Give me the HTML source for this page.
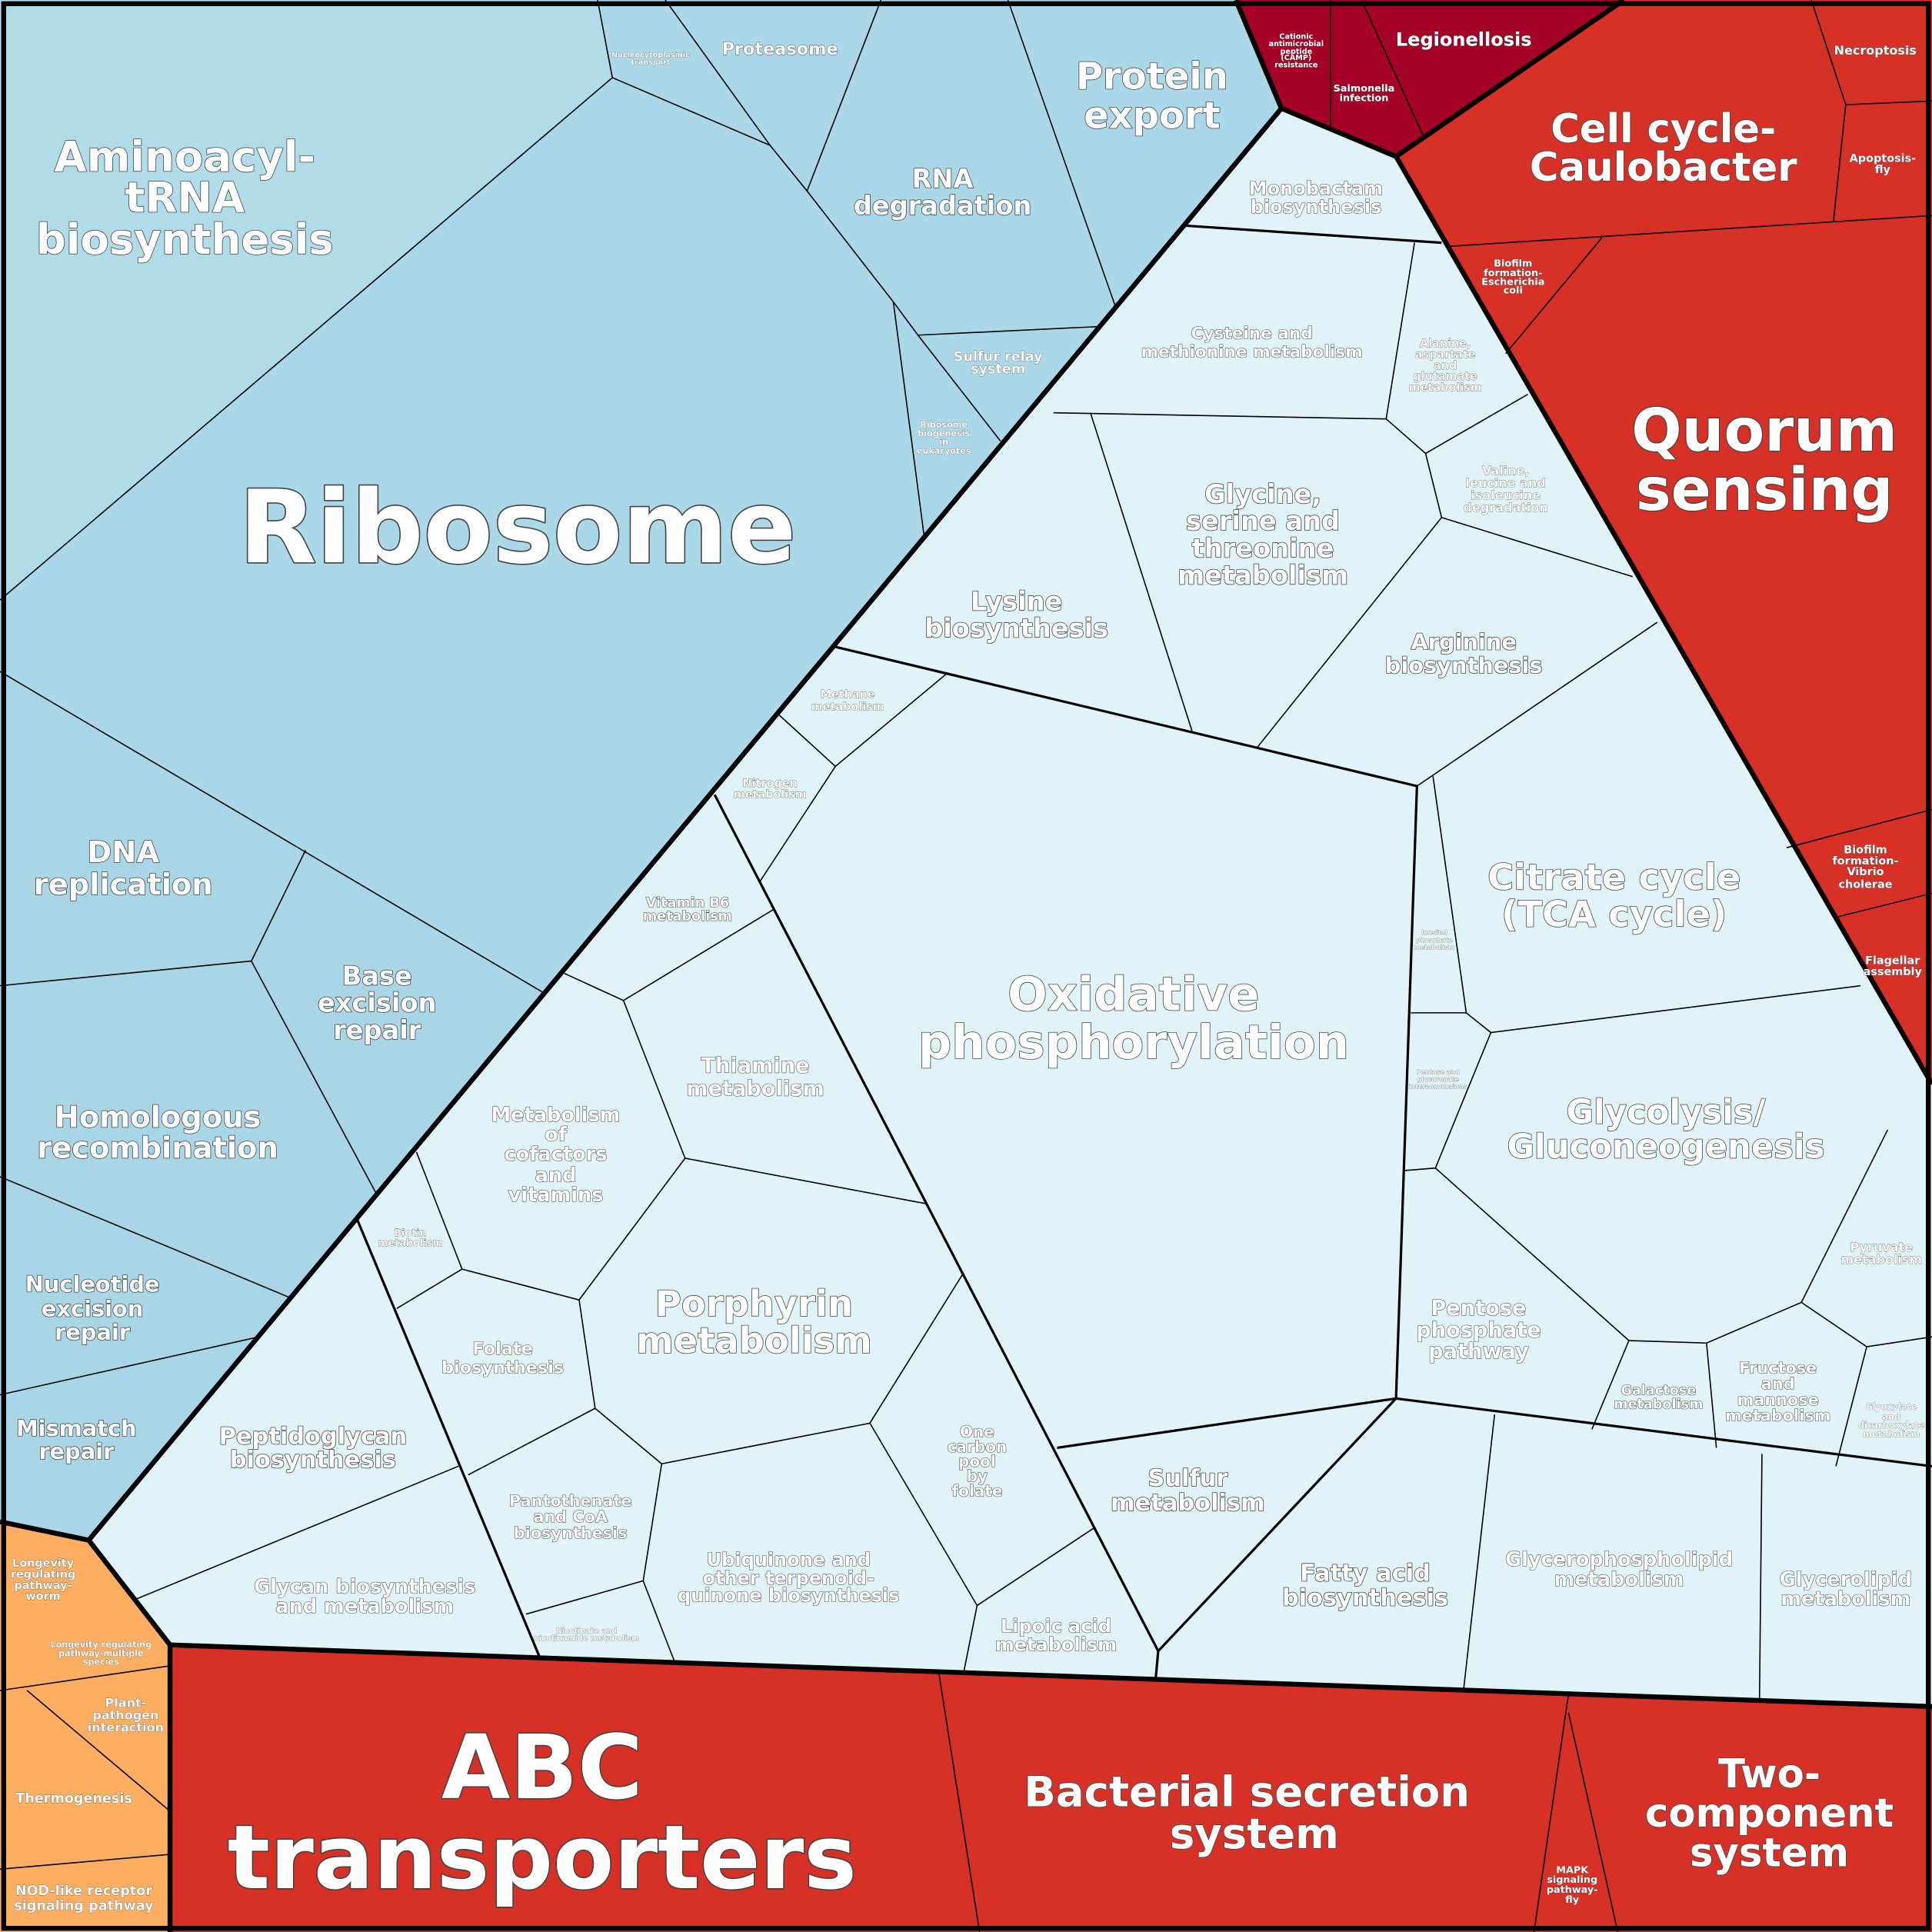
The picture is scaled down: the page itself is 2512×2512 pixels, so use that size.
<!DOCTYPE html>
<html><head><meta charset="utf-8"><style>
html,body{margin:0;padding:0;background:#fff}
svg{display:block}
text{font-family:"DejaVu Sans","Liberation Sans",sans-serif;font-weight:bold;fill:#fff;text-anchor:middle;dominant-baseline:central;paint-order:stroke;stroke:#444;stroke-linejoin:round}
.th{fill:none;stroke:#000;stroke-width:1}
.md{fill:none;stroke:#000;stroke-width:2}
.tk{fill:none;stroke:#000;stroke-width:4}
</style></head><body>
<svg width="2512" height="2512" viewBox="0 0 1568 1568" xmlns="http://www.w3.org/2000/svg">
<polygon points="0,0 1040,0 1040,88 72,1250 0,1235" fill="#abd8e8"/>
<polygon points="0,487 497,63 485,0 0,0" fill="#b0dbe9"/>
<polygon points="0,545 440,805 72,1250 0,1235" fill="#a9d6e6"/>
<polygon points="1003,0 1318,0 1133,127 1040,88" fill="#a50026"/>
<polygon points="1318,0 1568,0 1568,880 1133,127" fill="#d73027"/>
<polygon points="0,1235 72,1250 138,1335 138,1568 0,1568" fill="#fdae61"/>
<polygon points="138,1335 1568,1385 1568,1568 138,1568" fill="#d73027"/>
<polygon points="1040,88 1133,127 1568,880 1568,1385 138,1335 72,1250" fill="#e0f3f8"/>

<g class="th">
<polyline points="0,487 497,63 485,0"/>
<polyline points="497,63 625,118"/>
<polyline points="540,0 625,118 655,155 725,245 750,435"/>
<polyline points="725,245 745,272 812,358"/>
<polyline points="745,272 893,265 905,248"/>
<polyline points="655,155 715,0"/>
<polyline points="818,0 905,248"/>
<polyline points="0,545 440,805"/>
<polyline points="248,690 204,780 305,968"/>
<polyline points="0,800 204,780"/>
<polyline points="0,955 235,1053"/>
<polyline points="0,1132 210,1085"/>
<polyline points="1470,0 1498,85 1568,82"/>
<polyline points="1498,85 1488,180"/>
<polyline points="1175,200 1488,180 1568,175"/>
<polyline points="1300,193 1222,287"/>
<polyline points="1080,0 1080,105"/>
<polyline points="1105,0 1155,110"/>
<polyline points="1450,688 1568,657"/>
<polyline points="1488,745 1568,725"/>
<polyline points="762,1358 795,1568"/>
<polyline points="1273,1375 1245,1568"/>
<polyline points="1273,1390 1313,1568"/>
<polyline points="0,1372 138,1352"/>
<polyline points="22,1372 138,1470"/>
<polyline points="0,1517 138,1505"/>
<polyline points="855,335 1125,340 1148,197"/>
<polyline points="885,335 968,595"/>
<polyline points="1125,340 1157,368 1170,420 1020,607"/>
<polyline points="1157,368 1240,320"/>
<polyline points="1170,420 1325,468"/>
<polyline points="678,525 632,580 678,622 768,547"/>
<polyline points="678,622 617,715"/>
<polyline points="458,790 506,812 628,738"/>
<polyline points="506,812 556,940 752,977"/>
<polyline points="556,940 470,1055 375,1030 338,935"/>
<polyline points="375,1030 322,1062"/>
<polyline points="470,1055 483,1143 380,1197"/>
<polyline points="483,1143 537,1188 706,1155 782,1033"/>
<polyline points="706,1155 793,1303 888,1240"/>
<polyline points="793,1303 782,1358"/>
<polyline points="537,1188 522,1283 427,1310"/>
<polyline points="522,1283 548,1350"/>
<polyline points="110,1298 372,1190"/>
<polyline points="1145,822 1190,822 1210,838 1510,800"/>
<polyline points="1190,822 1163,630"/>
<polyline points="1210,838 1165,948 1140,950"/>
<polyline points="1165,948 1322,1088 1292,1160"/>
<polyline points="1322,1088 1385,1090 1393,1175"/>
<polyline points="1385,1090 1462,1057 1515,1093 1490,1190"/>
<polyline points="1462,1057 1532,917"/>
<polyline points="1515,1093 1568,1085"/>
<polyline points="1213,1148 1188,1370"/>
<polyline points="1430,1180 1428,1380"/>
<polyline points="1150,638 1345,505"/>
</g>
<g class="md">
<polyline points="960,183 1170,197"/>
<polyline points="678,525 1150,638 1133,1135 858,1175"/>
<polyline points="580,645 940,1340 938,1362"/>
<polyline points="940,1340 1133,1135 1568,1190"/>
<polyline points="290,990 438,1345"/>
</g>
<g class="tk">
<polyline points="1040,88 72,1250"/>
<polyline points="1003,0 1040,88 1133,127 1318,0"/>
<polyline points="1133,127 1568,880"/>
<polyline points="0,1235 72,1250 138,1335 138,1568"/>
<polyline points="138,1335 1568,1385"/>
<rect x="3" y="3" width="1562" height="1562"/>
</g>

<g style="stroke-width:1">
<text x="420" y="428" font-size="82" style="stroke-width:2">Ribosome</text>
<text x="150" y="127" font-size="34">Aminoacyl-</text>
<text x="150" y="160" font-size="34">tRNA</text>
<text x="150" y="194" font-size="34">biosynthesis</text>
<text x="935" y="62" font-size="30">Protein</text>
<text x="935" y="94" font-size="30">export</text>
<text x="765" y="145" font-size="21">RNA</text>
<text x="765" y="167" font-size="21">degradation</text>
<text x="633" y="40" font-size="14" style="stroke-width:0.6">Proteasome</text>
<text x="100" y="692" font-size="24">DNA</text>
<text x="100" y="718" font-size="24">replication</text>
<text x="306" y="792" font-size="21">Base</text>
<text x="306" y="814" font-size="21">excision</text>
<text x="306" y="836" font-size="21">repair</text>
<text x="128" y="907" font-size="24">Homologous</text>
<text x="128" y="932" font-size="24">recombination</text>
<text x="75" y="1042" font-size="18">Nucleotide</text>
<text x="75" y="1062" font-size="18">excision</text>
<text x="75" y="1081" font-size="18">repair</text>
<text x="62" y="1159" font-size="18">Mismatch</text>
<text x="62" y="1178" font-size="18">repair</text>
<text x="1188" y="32" font-size="15" style="stroke-width:0.6">Legionellosis</text>
<text x="1350" y="105" font-size="32">Cell cycle-</text>
<text x="1350" y="136" font-size="32">Caulobacter</text>
<text x="1432" y="350" font-size="48" style="stroke-width:1.5">Quorum</text>
<text x="1432" y="398" font-size="48" style="stroke-width:1.5">sensing</text>
<text x="440" y="1435" font-size="72" style="stroke-width:2">ABC</text>
<text x="440" y="1508" font-size="72" style="stroke-width:2">transporters</text>
<text x="1012" y="1454" font-size="34">Bacterial secretion</text>
<text x="1018" y="1488" font-size="34">system</text>
<text x="1436" y="1440" font-size="32">Two-</text>
<text x="1436" y="1472" font-size="32">component</text>
<text x="1436" y="1504" font-size="32">system</text>
<text x="920" y="807" font-size="38">Oxidative</text>
<text x="920" y="846" font-size="38">phosphorylation</text>
<text x="1310" y="712" font-size="29">Citrate cycle</text>
<text x="1310" y="742" font-size="29">(TCA cycle)</text>
<text x="1352" y="903" font-size="27">Glycolysis/</text>
<text x="1352" y="931" font-size="27">Gluconeogenesis</text>
<text x="612" y="1058" font-size="29">Porphyrin</text>
<text x="612" y="1088" font-size="29">metabolism</text>
<text x="1025" y="401" font-size="21">Glycine,</text>
<text x="1025" y="423" font-size="21">serine and</text>
<text x="1025" y="445" font-size="21">threonine</text>
<text x="1025" y="467" font-size="21">metabolism</text>
<text x="825" y="488" font-size="21">Lysine</text>
<text x="825" y="510" font-size="21">biosynthesis</text>
<text x="1188" y="521" font-size="18">Arginine</text>
<text x="1188" y="540" font-size="18">biosynthesis</text>
<text x="964" y="1200" font-size="19">Sulfur</text>
<text x="964" y="1220" font-size="19">metabolism</text>
<text x="254" y="1166" font-size="19">Peptidoglycan</text>
<text x="254" y="1185" font-size="19">biosynthesis</text>
<text x="1108" y="1277" font-size="19">Fatty acid</text>
<text x="1108" y="1297" font-size="19">biosynthesis</text>
</g>
<g style="stroke-width:0.7">
<text x="1068" y="153" font-size="15">Monobactam</text>
<text x="1068" y="168" font-size="15">biosynthesis</text>
<text x="1016" y="271" font-size="13.5">Cysteine and</text>
<text x="1016" y="286" font-size="13.5">methionine metabolism</text>
<text x="613" y="865" font-size="17">Thiamine</text>
<text x="613" y="884" font-size="17">metabolism</text>
<text x="451" y="905" font-size="16">Metabolism</text>
<text x="451" y="921" font-size="16">of</text>
<text x="451" y="937" font-size="16">cofactors</text>
<text x="451" y="954" font-size="16">and</text>
<text x="451" y="970" font-size="16">vitamins</text>
<text x="408" y="1095" font-size="14">Folate</text>
<text x="408" y="1110" font-size="14">biosynthesis</text>
<text x="793" y="1162" font-size="12.5">One</text>
<text x="793" y="1174" font-size="12.5">carbon</text>
<text x="793" y="1186" font-size="12.5">pool</text>
<text x="793" y="1198" font-size="12.5">by</text>
<text x="793" y="1210" font-size="12.5">folate</text>
<text x="463" y="1218" font-size="13">Pantothenate</text>
<text x="463" y="1231" font-size="13">and CoA</text>
<text x="463" y="1244" font-size="13">biosynthesis</text>
<text x="640" y="1266" font-size="15">Ubiquinone and</text>
<text x="640" y="1281" font-size="15">other terpenoid-</text>
<text x="640" y="1295" font-size="15">quinone biosynthesis</text>
<text x="857" y="1320" font-size="15">Lipoic acid</text>
<text x="857" y="1335" font-size="15">metabolism</text>
<text x="296" y="1288" font-size="16">Glycan biosynthesis</text>
<text x="296" y="1304" font-size="16">and metabolism</text>
<text x="1200" y="1062" font-size="17">Pentose</text>
<text x="1200" y="1080" font-size="17">phosphate</text>
<text x="1200" y="1097" font-size="17">pathway</text>
<text x="1443" y="1110" font-size="13">Fructose</text>
<text x="1443" y="1123" font-size="13">and</text>
<text x="1443" y="1136" font-size="13">mannose</text>
<text x="1443" y="1149" font-size="13">metabolism</text>
<text x="1314" y="1266" font-size="16">Glycerophospholipid</text>
<text x="1314" y="1282" font-size="16">metabolism</text>
<text x="1498" y="1282" font-size="16">Glycerolipid</text>
<text x="1498" y="1298" font-size="16">metabolism</text>
<text x="558" y="733" font-size="11">Vitamin B6</text>
<text x="558" y="744" font-size="11">metabolism</text>
<text x="1346" y="1129" font-size="11">Galactose</text>
<text x="1346" y="1140" font-size="11">metabolism</text>
</g>
<g style="stroke-width:0.4">
<text x="810" y="290" font-size="11">Sulfur relay</text>
<text x="810" y="300" font-size="11">system</text>
<text x="1173" y="279" font-size="9">Alanine,</text>
<text x="1173" y="288" font-size="9">aspartate</text>
<text x="1173" y="297" font-size="9">and</text>
<text x="1173" y="306" font-size="9">glutamate</text>
<text x="1173" y="315" font-size="9">metabolism</text>
<text x="1222" y="382" font-size="10">Valine,</text>
<text x="1222" y="392" font-size="10">leucine and</text>
<text x="1222" y="402" font-size="10">isoleucine</text>
<text x="1222" y="412" font-size="10">degradation</text>
<text x="688" y="564" font-size="9">Methane</text>
<text x="688" y="574" font-size="9">metabolism</text>
<text x="625" y="636" font-size="9">Nitrogen</text>
<text x="625" y="645" font-size="9">metabolism</text>
<text x="333" y="1001" font-size="8">Biotin</text>
<text x="333" y="1009" font-size="8">metabolism</text>
<text x="1527" y="1012" font-size="10">Pyruvate</text>
<text x="1527" y="1022" font-size="10">metabolism</text>
<text x="1522" y="41" font-size="10">Necroptosis</text>
<text x="1528" y="129" font-size="9">Apoptosis-</text>
<text x="1528" y="138" font-size="9">fly</text>
<text x="1228" y="214" font-size="8">Biofilm</text>
<text x="1228" y="222" font-size="8">formation-</text>
<text x="1228" y="229" font-size="8">Escherichia</text>
<text x="1228" y="236" font-size="8">coli</text>
<text x="1514" y="690" font-size="9">Biofilm</text>
<text x="1514" y="699" font-size="9">formation-</text>
<text x="1514" y="708" font-size="9">Vibrio</text>
<text x="1514" y="718" font-size="9">cholerae</text>
<text x="1536" y="780" font-size="9">Flagellar</text>
<text x="1536" y="789" font-size="9">assembly</text>
<text x="1107" y="72" font-size="8">Salmonella</text>
<text x="1107" y="80" font-size="8">infection</text>
<text x="35" y="1269" font-size="9">Longevity</text>
<text x="35" y="1278" font-size="9">regulating</text>
<text x="35" y="1287" font-size="9">pathway-</text>
<text x="35" y="1296" font-size="9">worm</text>
<text x="102" y="1382" font-size="10">Plant-</text>
<text x="102" y="1392" font-size="10">pathogen</text>
<text x="102" y="1402" font-size="10">interaction</text>
<text x="60" y="1460" font-size="11">Thermogenesis</text>
<text x="68" y="1535" font-size="11">NOD-like receptor</text>
<text x="68" y="1547" font-size="11">signaling pathway</text>
<text x="1276" y="1518" font-size="8">MAPK</text>
<text x="1276" y="1526" font-size="8">signaling</text>
<text x="1276" y="1534" font-size="8">pathway-</text>
<text x="1276" y="1542" font-size="8">fly</text>
</g>
<g style="stroke-width:0.3">
<text x="766" y="345" font-size="7">Ribosome</text>
<text x="766" y="352" font-size="7">biogenesis</text>
<text x="766" y="359" font-size="7">in</text>
<text x="766" y="366" font-size="7">eukaryotes</text>
<text x="528" y="45" font-size="6">Nucleocytoplasmic</text>
<text x="528" y="51" font-size="6">transport</text>
<text x="1052" y="30" font-size="6">Cationic</text>
<text x="1052" y="36" font-size="6">antimicrobial</text>
<text x="1052" y="42" font-size="6">peptide</text>
<text x="1052" y="47" font-size="6">(CAMP)</text>
<text x="1052" y="53" font-size="6">resistance</text>
<text x="1164" y="757" font-size="5">Inositol</text>
<text x="1164" y="763" font-size="5">phosphate</text>
<text x="1164" y="769" font-size="5">metabolism</text>
<text x="1167" y="870" font-size="5">Pentose and</text>
<text x="1167" y="876" font-size="5">glucuronate</text>
<text x="1167" y="882" font-size="5">interconversions</text>
<text x="476" y="1324" font-size="6">Nicotinate and</text>
<text x="476" y="1330" font-size="6">nicotinamide metabolism</text>
<text x="1535" y="1142" font-size="7">Glyoxylate</text>
<text x="1535" y="1150" font-size="7">and</text>
<text x="1535" y="1157" font-size="7">dicarboxylate</text>
<text x="1535" y="1164" font-size="7">metabolism</text>
<text x="82" y="1335" font-size="7">Longevity regulating</text>
<text x="82" y="1342" font-size="7">pathway-multiple</text>
<text x="82" y="1349" font-size="7">species</text>
</g>
</svg>
</body></html>
